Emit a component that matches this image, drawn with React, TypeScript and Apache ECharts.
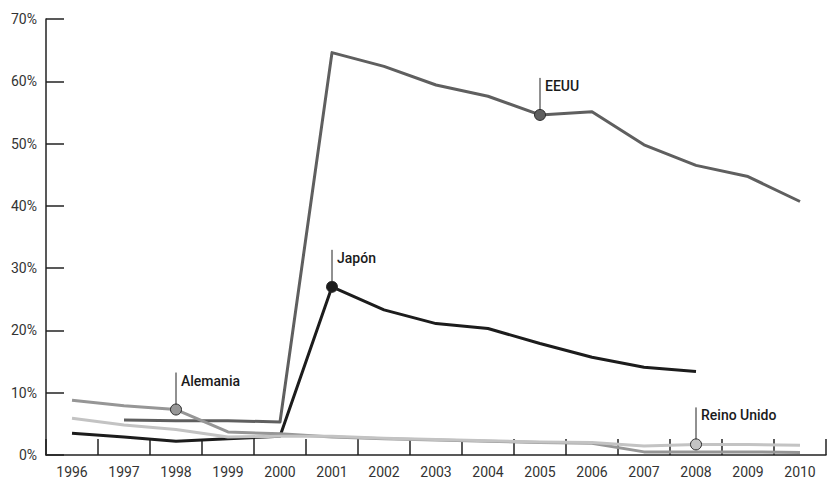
import React, { useEffect, useRef } from "react";
import * as echarts from "echarts";

const years = ["1996","1997","1998","1999","2000","2001","2002","2003","2004","2005","2006","2007","2008","2009","2010"];
const yTicks = [0, 10, 20, 30, 40, 50, 60, 70];

const eeuu = [null, 5.6, 5.5, 5.5, 5.3, 64.6, 62.4, 59.4, 57.6, 54.6, 55.1, 49.8, 46.5, 44.7, 40.7];
const japon = [3.5, 2.9, 2.2, 2.6, 3.0, 27.0, 23.3, 21.1, 20.3, 17.9, 15.7, 14.1, 13.4, null, null];
const alemania = [8.8, 7.9, 7.3, 3.7, 3.4, 2.9, 2.6, 2.4, 2.2, 2.0, 1.9, 0.5, 0.5, 0.5, 0.4];
const reinoUnido = [5.9, 4.8, 4.1, 2.9, 3.0, 3.0, 2.7, 2.5, 2.3, 2.1, 2.0, 1.45, 1.7, 1.7, 1.55];

const seriesNames = ["Japón", "EEUU", "Alemania", "Reino Unido"];
const seriesValues = [japon, eeuu, alemania, reinoUnido];
const seriesColors = ["#1c1c1c", "#5f5f5f", "#969696", "#c3c3c3"];
const markerYears = ["2001", "2005", "1998", "2008"];
const markerLabels = ["Japón", "EEUU", "Alemania", "Reino Unido"];

const FONT = "Roboto, 'Liberation Sans', sans-serif";

export default function App() {
  const ref = useRef<HTMLDivElement>(null);
  useEffect(() => {
    if (!ref.current) return;
    const chart = echarts.init(ref.current, undefined, { renderer: "svg" });
    const series = seriesNames.map((name, si) => ({
      name,
      type: "line",
      showSymbol: true,
      symbol: "none",
      connectNulls: false,
      z: 2 + si,
      lineStyle: { color: seriesColors[si], width: 3, join: "round" },
      itemStyle: { color: seriesColors[si] },
      emphasis: { disabled: true },
      data: seriesValues[si].map((v, i) =>
        years[i] === markerYears[si] && v !== null
          ? {
              value: v,
              symbol: "circle",
              symbolSize: 11,
              itemStyle: { color: seriesColors[si], borderColor: "#2a2a2a", borderWidth: 1 },
            }
          : v
      ),
    }));
    chart.setOption({
      animation: false,
      grid: { left: 46, right: 2, top: 19, bottom: 30, containLabel: false },
      xAxis: {
        type: "category",
        data: years,
        boundaryGap: true,
        axisLine: { lineStyle: { color: "#222", width: 1.5 } },
        axisTick: { show: true, inside: true, length: 16, lineStyle: { color: "#222", width: 1.5 } },
        axisLabel: { color: "#333", fontFamily: FONT, fontSize: 14, margin: 10 },
        splitLine: { show: false },
      },
      yAxis: {
        type: "value",
        min: yTicks[0],
        max: yTicks[yTicks.length - 1],
        interval: 10,
        axisLine: { show: true, lineStyle: { color: "#222", width: 1.5 } },
        axisTick: { show: true, inside: true, length: 18, lineStyle: { color: "#222", width: 1.5 } },
        axisLabel: { color: "#333", fontFamily: FONT, fontSize: 14, margin: 9, formatter: "{value}%" },
        splitLine: { show: false },
      },
      series,
    });
    const graphic: any[] = [];
    seriesNames.forEach((name, si) => {
      const idx = years.indexOf(markerYears[si]);
      const v = seriesValues[si][idx];
      if (v === null) return;
      const p = chart.convertToPixel({ gridIndex: 0 }, [idx, v]) as number[];
      graphic.push({
        type: "line",
        z: 1,
        shape: { x1: p[0], y1: p[1], x2: p[0], y2: p[1] - 37 },
        style: { stroke: "#222", lineWidth: 1 },
        silent: true,
      });
      graphic.push({
        type: "text",
        x: p[0] + 5,
        y: p[1] - 29,
        style: {
          text: markerLabels[si],
          fill: "#1a1a1a",
          font: `500 14px ${FONT}`,
          textVerticalAlign: "middle",
          textAlign: "left",
        },
        silent: true,
      });
    });
    chart.setOption({ graphic });
    return () => chart.dispose();
  }, []);
  return <div ref={ref} style={{ position: "absolute", left: 0, top: 0, width: 828, height: 485 }} />;
}
